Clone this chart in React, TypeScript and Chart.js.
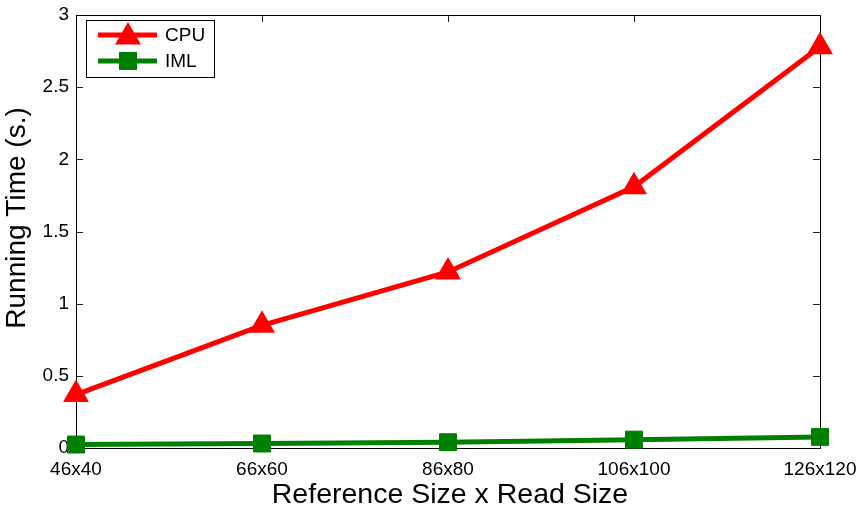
import React, { useEffect, useRef } from "react";
import { Chart, registerables } from "chart.js";

Chart.register(...registerables);

const categories = ["46x40", "66x60", "86x80", "106x100", "126x120"];
const cpuTimes = [0.37, 0.85, 1.22, 1.81, 2.78];
const imlTimes = [0.024, 0.031, 0.04, 0.058, 0.077];
const seriesNames = ["CPU", "IML"];
const yMin = 0;
const yMax = 3;
const yStep = 0.5;
const xTitle = "Reference Size x Read Size";
const yTitle = "Running Time (s.)";

const RED = "#ff0000";
const GREEN = "#008000";
const FONT = "Arial, 'Liberation Sans', sans-serif";

const framePlugin = {
  id: "matlabFrame",
  beforeDatasetsDraw(chart: any) {
    const { ctx, chartArea } = chart;
    const { left, right, top, bottom } = chartArea;
    const xs = chart.scales.x;
    const ys = chart.scales.y;
    ctx.save();
    ctx.strokeStyle = "#222";
    ctx.lineWidth = 1;
    const tl = 7;
    for (let v = yMin; v <= yMax + 1e-9; v += yStep) {
      const y = Math.round(ys.getPixelForValue(v)) + 0.5;
      ctx.beginPath();
      ctx.moveTo(left, y);
      ctx.lineTo(left + tl, y);
      ctx.moveTo(right, y);
      ctx.lineTo(right - tl, y);
      ctx.stroke();
    }
    categories.forEach((_, i) => {
      const x = Math.round(xs.getPixelForValue(i)) + 0.5;
      ctx.beginPath();
      ctx.moveTo(x, bottom);
      ctx.lineTo(x, bottom - tl);
      ctx.moveTo(x, top);
      ctx.lineTo(x, top + tl);
      ctx.stroke();
    });
    ctx.strokeStyle = "#000";
    ctx.strokeRect(Math.round(left) + 0.5, Math.round(top) + 0.5, Math.round(right - left), Math.round(bottom - top));
    ctx.restore();
  },
  afterDraw(chart: any) {
    const { ctx, chartArea } = chart;
    ctx.save();
    ctx.fillStyle = "#000";
    ctx.textAlign = "center";
    ctx.textBaseline = "alphabetic";
    ctx.font = `28.5px ${FONT}`;
    ctx.fillText(xTitle, (chartArea.left + chartArea.right) / 2 + 2, 503);
    ctx.font = `28px ${FONT}`;
    ctx.save();
    ctx.translate(25, 218);
    ctx.rotate(-Math.PI / 2);
    ctx.fillText(yTitle, 0, 0);
    ctx.restore();

    const bx = 86, by = 20, bw = 128, bh = 57;
    ctx.fillStyle = "#fff";
    ctx.fillRect(bx, by, bw, bh);
    ctx.strokeStyle = "#000";
    ctx.lineWidth = 1;
    ctx.strokeRect(bx + 0.5, by + 0.5, bw, bh);
    const rows = [
      { name: seriesNames[0], color: RED, y: 35, shape: "triangle" },
      { name: seriesNames[1], color: GREEN, y: 61, shape: "rect" },
    ];
    rows.forEach((r) => {
      ctx.strokeStyle = r.color;
      ctx.lineWidth = 5;
      ctx.beginPath();
      ctx.moveTo(98, r.y);
      ctx.lineTo(157, r.y);
      ctx.stroke();
      ctx.fillStyle = r.color;
      ctx.lineWidth = 2;
      if (r.shape === "triangle") {
        const rad = 13;
        const cx = 128, cy = r.y + 2;
        ctx.beginPath();
        for (let k = 0; k < 3; k++) {
          const a = (k * 2 * Math.PI) / 3;
          const px = cx + Math.sin(a) * rad;
          const py = cy - Math.cos(a) * rad;
          if (k === 0) ctx.moveTo(px, py);
          else ctx.lineTo(px, py);
        }
        ctx.closePath();
        ctx.fill();
        ctx.stroke();
      } else {
        ctx.fillRect(119, r.y - 9, 18, 18);
      }
      ctx.fillStyle = "#000";
      ctx.font = `19px ${FONT}`;
      ctx.textAlign = "left";
      ctx.textBaseline = "middle";
      ctx.fillText(r.name, 165, r.y + 1);
    });
    ctx.restore();
  },
};

export default function App() {
  const ref = useRef<HTMLCanvasElement | null>(null);
  useEffect(() => {
    if (!ref.current) return;
    const chart = new Chart(ref.current, {
      type: "line",
      data: {
        labels: categories,
        datasets: [
          {
            label: seriesNames[0],
            data: cpuTimes,
            borderColor: RED,
            backgroundColor: RED,
            borderWidth: 5,
            pointStyle: "triangle",
            pointRadius: 13,
            pointBorderWidth: 2,
            pointBackgroundColor: RED,
            pointBorderColor: RED,
            tension: 0,
            clip: false,
          } as any,
          {
            label: seriesNames[1],
            data: imlTimes,
            borderColor: GREEN,
            backgroundColor: GREEN,
            borderWidth: 5,
            pointStyle: "rect",
            pointRadius: 12,
            pointBorderWidth: 1,
            pointBackgroundColor: GREEN,
            pointBorderColor: GREEN,
            tension: 0,
            clip: false,
          } as any,
        ],
      },
      options: {
        animation: false,
        responsive: false,
        maintainAspectRatio: false,
        layout: { padding: { top: 10, right: 39, left: 0, bottom: 0 } },
        plugins: {
          legend: { display: false },
          tooltip: { enabled: false },
        },
        scales: {
          x: {
            type: "category",
            offset: false,
            grid: { display: false, drawTicks: false },
            border: { display: false },
            ticks: {
              color: "#000",
              font: { size: 19, family: FONT },
              maxRotation: 0,
              minRotation: 0,
              autoSkip: false,
              padding: 10,
            },
            afterFit(scale: any) {
              scale.height = 58;
              scale.paddingLeft = 0;
              scale.paddingRight = 0;
            },
          },
          y: {
            min: yMin,
            max: yMax,
            grid: { display: false, drawTicks: false },
            border: { display: false },
            ticks: {
              stepSize: yStep,
              color: "#000",
              font: { size: 19, family: FONT },
              padding: 7,
              callback: (v: any) => String(Number(v)),
            },
            afterFit(scale: any) {
              scale.width = 76;
              scale.paddingTop = 0;
              scale.paddingBottom = 0;
            },
          },
        },
      },
      plugins: [framePlugin],
    });
    return () => chart.destroy();
  }, []);
  return (
    <div style={{ position: "absolute", left: 0, top: 0, width: 859, height: 506, background: "#fff" }}>
      <canvas ref={ref} width={859} height={506} style={{ width: 859, height: 506, display: "block" }} />
    </div>
  );
}
